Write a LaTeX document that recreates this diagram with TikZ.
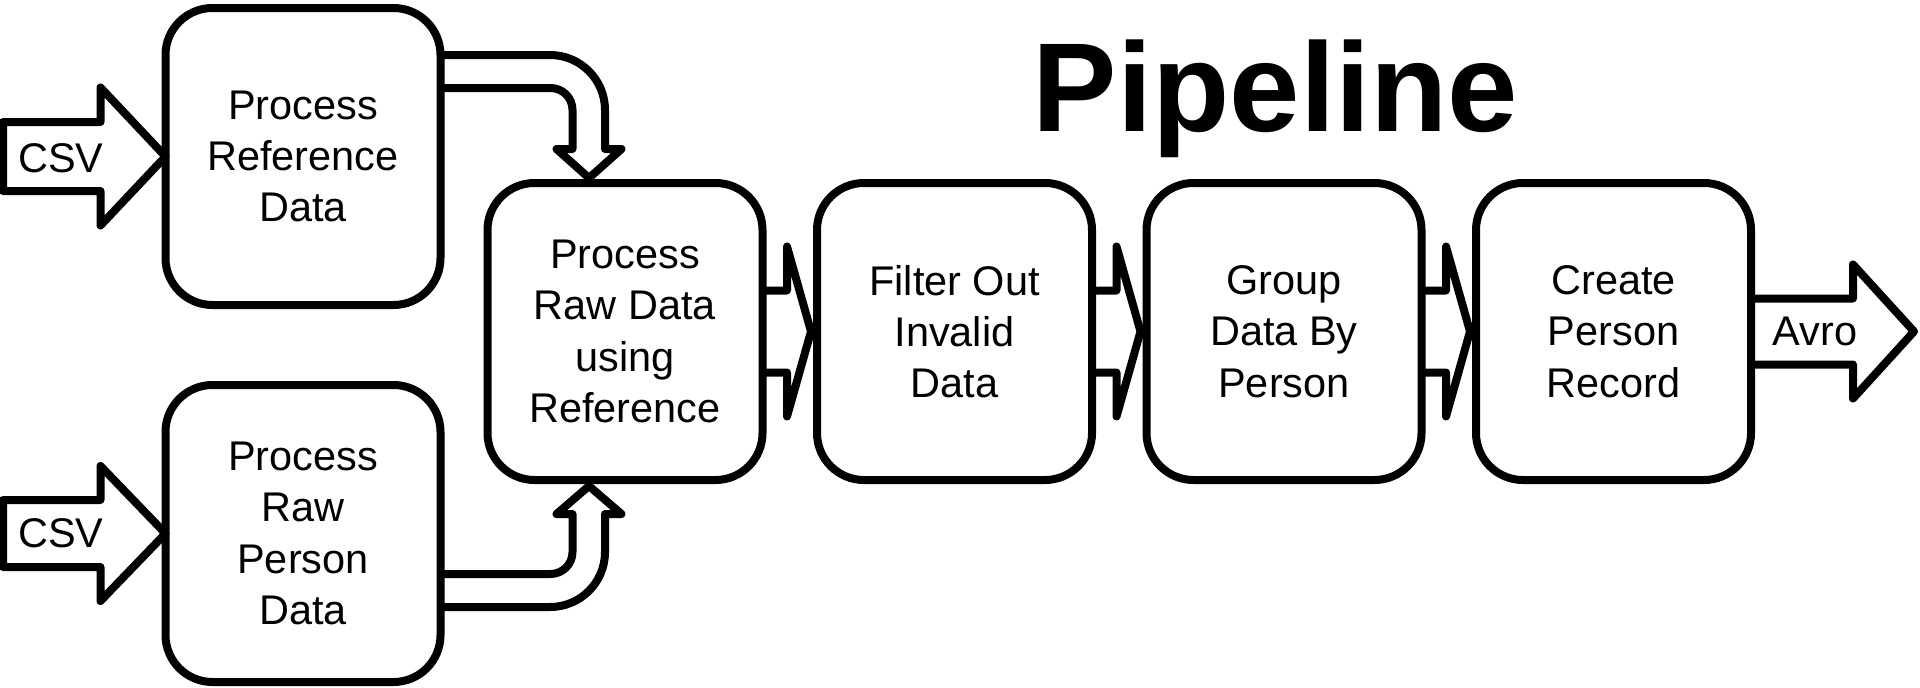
\documentclass[tikz,border=0pt]{standalone}
\usepackage{fontspec}
\setmainfont{Liberation Sans}
\usepackage{tikz}
\usetikzlibrary{positioning,calc}

\begin{document}
\begin{tikzpicture}[
  every node/.style={font=\fontsize{11.8}{14.6}\selectfont},
  stage/.style={draw, line width=0.08cm, rounded corners=0.47cm, outer sep=0pt,
                minimum width=2.75cm, minimum height=2.97cm, align=center, inner sep=0pt},
  blockarr/.style={draw, line width=0.08cm, line join=round, fill=white},
  flowarr/.style={draw, line width=0.08cm, line join=round},
  lbl/.style={inner sep=0pt},
]
\useasboundingbox (0,0) rectangle (19.2,-6.87);
\node[lbl, font=\fontsize{36}{43}\selectfont\bfseries, anchor=base] (title) at (12.755,-1.31) {Pipeline};
\node[stage] (ref)    at (3.03,-1.565)  {Process\\Reference\\Data};
\node[stage] (raw)    at (3.03,-5.335)  {Process\\Raw\\Person\\Data};
\node[stage] (merge)  at (6.25,-3.315)  {Process\\Raw Data\\using\\Reference};
\node[stage, right=0.545cm of merge]  (filter) {Filter Out\\Invalid\\Data};
\node[stage, right=0.545cm of filter] (group)  {Group\\Data By\\Person};
\node[stage, right=0.545cm of group]  (record) {Create\\Person\\Record};
\draw[blockarr] (ref.west) -- ++(-0.65,0.69) -- ++(0,-0.345) -- ++(-0.975,0) -- ++(0,-0.69)
  -- ++(0.975,0) -- ++(0,-0.345) -- cycle;
\draw[blockarr] (raw.west) -- ++(-0.65,0.675) -- ++(0,-0.34) -- ++(-0.975,0) -- ++(0,-0.67)
  -- ++(0.975,0) -- ++(0,-0.34) -- cycle;
\node[lbl] (csvref) at ($(ref.west)+(-1.045,-0.015)$) {CSV};
\node[lbl] (csvraw) at ($(raw.west)+(-1.045,0)$) {CSV};
\draw[flowarr] ($(ref.east)+(0,1.015)$) -- ++(1.095,0) arc[start angle=90,end angle=0,radius=0.55]
  -- ++(0,-0.39) -- ++(0.165,0) -- ($(merge.north)+(-0.36,0.05)$) -- ++(-0.325,0.29) -- ++(0.16,0)
  -- ++(0,0.39) arc[start angle=0,end angle=90,radius=0.22] -- ($(ref.east)+(0,0.685)$);
\draw[flowarr] ($(raw.east)+(0,-0.405)$) -- ++(1.10,0) arc[start angle=-90,end angle=0,radius=0.22]
  -- ++(0,0.38) -- ++(-0.16,0) -- ($(merge.south)+(-0.36,-0.06)$) -- ++(0.325,-0.28) -- ++(-0.165,0)
  -- ++(0,-0.38) arc[start angle=0,end angle=-90,radius=0.55] -- ($(raw.east)+(0,-0.735)$);
\foreach \a/\b in {merge/filter,filter/group,group/record}
  \draw[flowarr] ($(\a.east)+(0,0.41)$) -- ++(0.245,0) -- ++(0,0.44) -- ($(\b.west)+(-0.06,0)$)
    -- ($(\a.east)+(0.245,-0.85)$) -- ++(0,0.44) -- ($(\a.east)+(0,-0.41)$);
\draw[flowarr] ($(record.east)+(0,0.33)$) -- ++(1.02,0) -- ++(0,0.34) -- ($(record.east)+(1.63,0)$)
  -- ($(record.east)+(1.02,-0.67)$) -- ++(0,0.34) -- ($(record.east)+(0,-0.33)$);
\node[lbl] (avro) at ($(record.east)+(0.64,0)$) {Avro};
\end{tikzpicture}
\end{document}
